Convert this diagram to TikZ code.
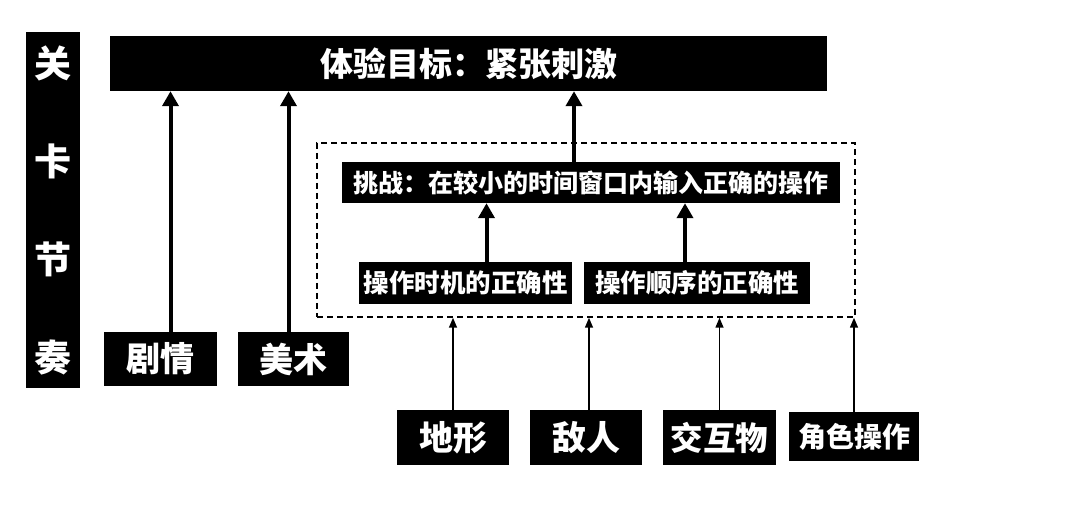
\documentclass[tikz,border=0pt]{standalone}
\usepackage{fontspec}
\setmainfont{Noto Sans CJK SC}
\usepackage{tikz}
\usetikzlibrary{arrows.meta,positioning}
\tikzset{
  tag/.style={fill=black,text=white,inner sep=0pt,font=\bfseries},
  zone/.style={draw,dashed,dash pattern=on 6pt off 4pt,line width=1.5pt,inner sep=0pt},
  feed/.style={-{Triangle[width=8pt,length=10pt]},line width=1.5pt}
}
\tikzstyle{rise} = [line width=4pt,-{Triangle[width=16pt,length=15pt]}]
\newcommand{\fsize}[2]{\fontsize{#1}{#2}\selectfont}

\begin{document}
\begin{tikzpicture}[x=1pt,y=-1pt]
\useasboundingbox (0,0) rectangle (1080,513);
% level rhythm bar and goal
\node[tag,minimum width=54,minimum height=356,align=center,font=\bfseries\fsize{37}{98}] (rhythm) at (53,210) {关\\卡\\节\\奏};
\node[tag,minimum width=717,minimum height=55,font=\bfseries\fsize{33}{33}] (goal) at (468.5,63.5) {体验目标：紧张刺激};
\node[tag,minimum width=113,minimum height=54,font=\bfseries\fsize{34}{34}] (plot) at (160.5,359) {剧情};
\node[tag,minimum width=111,minimum height=54,font=\bfseries\fsize{34}{34}] (art) at (293.5,359) {美术};
% challenge area
\node[zone,minimum width=538,minimum height=174] (area) at (586,230) {};
\node[tag,minimum width=498,minimum height=41,font=\bfseries\fsize{25}{25}] (challenge) at (591,182.5) {挑战：在较小的时间窗口内输入正确的操作};
\node[tag,minimum width=213,minimum height=42,font=\bfseries\fsize{25.5}{25.5}] (timing) at (465.5,283) {操作时机的正确性};
\node[tag,minimum width=226,minimum height=42,font=\bfseries\fsize{25.5}{25.5}] (order) at (697,283) {操作顺序的正确性};
% level elements
\node[tag,minimum width=112,minimum height=55,font=\bfseries\fsize{34}{34}] (terrain) at (453,437.5) {地形};
\node[tag,minimum width=112,minimum height=55,font=\bfseries\fsize{34}{34}] (enemy) at (586,437.5) {敌人};
\node[tag,minimum width=113,minimum height=55,font=\bfseries\fsize{32.5}{32.5}] (props) at (719.5,437.5) {交互物};
\node[tag,minimum width=130,minimum height=49,font=\bfseries\fsize{28}{28}] (role) at (854,436.5) {角色操作};
% arrows
\draw[rise] ([xshift=10pt]plot.north) -- ([xshift=10pt]plot.north |- goal.south);
\draw[rise] ([xshift=-5pt]art.north) -- ([xshift=-5pt]art.north |- goal.south);
\draw[rise] ([xshift=-17pt]challenge.north) -- ([xshift=-17pt]challenge.north |- goal.south);
\draw[rise] ([xshift=21pt]timing.north) -- ([xshift=21pt]timing.north |- challenge.south);
\draw[rise] ([xshift=-12pt]order.north) -- ([xshift=-12pt]order.north |- challenge.south);
\draw[feed] (terrain.north) -- (terrain.north |- area.south);
\draw[feed] ([xshift=3pt]enemy.north) -- ([xshift=3pt]enemy.north |- area.south);
\draw[feed] (props.north) -- (props.north |- area.south);
\draw[feed] (role.north) -- (role.north |- area.south);
\end{tikzpicture}
\end{document}
